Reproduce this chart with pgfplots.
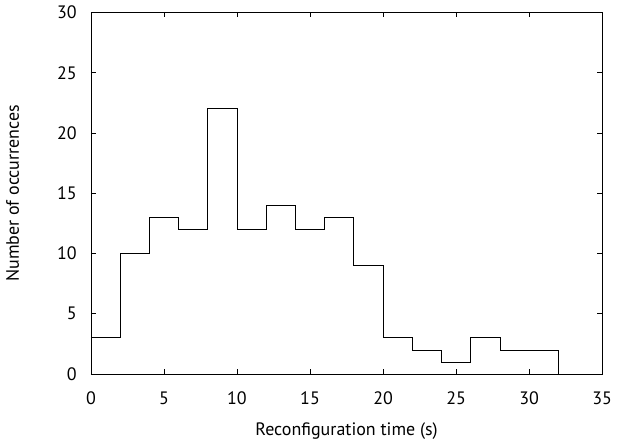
\documentclass[border=0pt]{standalone}
\usepackage{pgfplots}
\pgfplotsset{compat=1.18}
\usepackage{fontspec}
\setmainfont{PT Sans}
\begin{document}
\fontsize{18}{21}\selectfont
\begin{tikzpicture}
\begin{axis}[
  scale only axis,
  width=512pt, height=362pt,
  xmin=0, xmax=35, ymin=0, ymax=30,
  xtick={0,5,...,35}, ytick={0,5,...,30},
  tick align=inside,
  major tick length=5pt,
  axis line style={line width=0.8pt},
  tick style={line width=0.8pt, black},
  /pgf/number format/assume math mode=true,
  ticklabel style={font=\fontsize{18}{21}\selectfont},
  label style={font=\fontsize{18}{21}\selectfont},
  xticklabel style={yshift=-11.5pt},
  yticklabel style={xshift=-8pt},
  xlabel={Reconfiguration time (s)},
  ylabel={Number of occurrences},
  xlabel style={yshift=-6pt},
  ylabel style={yshift=26pt},
]
\addplot[const plot, black, line width=0.8pt] coordinates {
(0,3) (2,10) (4,13) (6,12) (8,22) (10,12) (12,14) (14,12) (16,13) (18,9)
(20,3) (22,2) (24,1) (26,3) (28,2) (30,2) (32,0)
};
\end{axis}
\end{tikzpicture}
\end{document}
